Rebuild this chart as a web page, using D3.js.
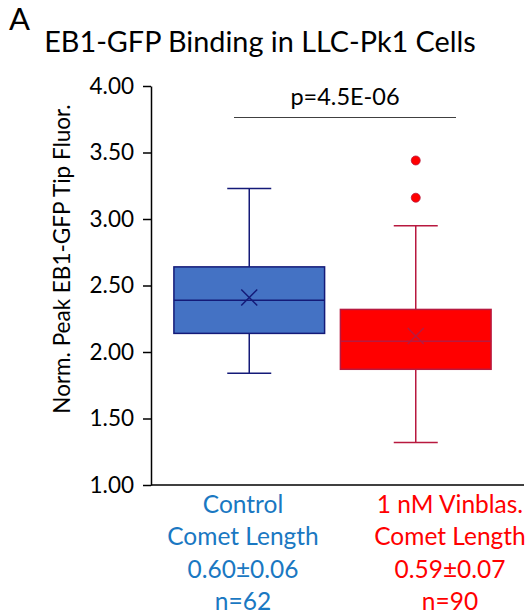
<!DOCTYPE html>
<html>
<head>
<meta charset="utf-8">
<script src="https://cdn.jsdelivr.net/npm/d3@7"></script>
<style>
body { margin: 0; background: #fff; }
text { font-family: Lato, "Open Sans", sans-serif; }
</style>
</head>
<body>
<div id="chart"></div>
<script>
var width = 529,
    height = 615;

// values
var groups = ["Control", "1 nM Vinblas."];
var whiskerLow = [1.84, 1.32];
var q1 = [2.14, 1.87];
var median = [2.39, 2.08];
var q3 = [2.64, 2.32];
var whiskerHigh = [3.23, 2.95];
var means = [2.41, 2.12];
var outliers = [[], [3.44, 3.16]];
var yTicks = [1.00, 1.50, 2.00, 2.50, 3.00, 3.50, 4.00];
var labelLines = [
    ["Control", "Comet Length", "0.60\u00b10.06", "n=62"],
    ["1 nM Vinblas.", "Comet Length", "0.59\u00b10.07", "n=90"]
];
var pText = "p=4.5E-06";

var fills = ["#4472c4", "#ff0000"],
    strokes = ["#141a78", "#b8193f"],
    labelColors = ["#1a78c2", "#ff0000"];

var svg = d3.select("#chart")
    .append("svg")
    .attr("width", width)
    .attr("height", height);

var yScale = d3.scaleLinear()
    .domain([1, 4])
    .range([485, 86]);

var xScale = d3.scaleBand()
    .domain(groups)
    .range([166, 499])
    .paddingInner(0);

var boxW = xScale.bandwidth() * 0.905,
    capW = 44;

// panel letter + title
svg.append("text")
    .attr("x", 9)
    .attr("y", 30)
    .attr("font-size", 31)
    .text("A");

svg.append("text")
    .attr("x", 260)
    .attr("y", 52)
    .attr("text-anchor", "middle")
    .attr("font-size", 28.8)
    .text("EB1-GFP Binding in LLC-Pk1 Cells");

// y axis
var yAxis = d3.axisLeft(yScale)
    .tickValues(yTicks)
    .tickFormat(d3.format(".2f"))
    .tickSize(8)
    .tickSizeOuter(0);

var gy = svg.append("g")
    .attr("transform", "translate(151,0)")
    .call(yAxis);
gy.select(".domain").attr("stroke", "#000").attr("stroke-width", 1.5);
gy.selectAll(".tick line").attr("stroke", "#000").attr("stroke-width", 1.5);
gy.selectAll(".tick text")
    .attr("font-size", 22.5)
    .attr("font-family", "Lato, sans-serif")
    .attr("fill", "#000")
    .attr("x", -17);

// x axis line
svg.append("line")
    .attr("x1", 151).attr("x2", 524)
    .attr("y1", yScale(1)).attr("y2", yScale(1))
    .attr("stroke", "#000")
    .attr("stroke-width", 1.5);

svg.append("text")
    .attr("transform", "translate(70," + 259 + ") rotate(-90)")
    .attr("text-anchor", "middle")
    .attr("font-size", 22.5)
    .text("Norm. Peak EB1-GFP Tip Fluor.");

// boxes
var g = svg.selectAll(".box")
    .data(groups)
    .enter()
    .append("g")
    .attr("class", "box");

g.each(function(d, i) {
    var sel = d3.select(this);
    var cx = xScale(d) + xScale.bandwidth() / 2;

    // whiskers
    sel.append("line")
        .attr("x1", cx).attr("x2", cx)
        .attr("y1", yScale(whiskerHigh[i])).attr("y2", yScale(q3[i]))
        .attr("stroke", strokes[i]).attr("stroke-width", 1.5);
    sel.append("line")
        .attr("x1", cx).attr("x2", cx)
        .attr("y1", yScale(q1[i])).attr("y2", yScale(whiskerLow[i]))
        .attr("stroke", strokes[i]).attr("stroke-width", 1.5);
    [whiskerHigh[i], whiskerLow[i]].forEach(function(v) {
        sel.append("line")
            .attr("x1", cx - capW / 2).attr("x2", cx + capW / 2)
            .attr("y1", yScale(v)).attr("y2", yScale(v))
            .attr("stroke", strokes[i]).attr("stroke-width", 1.5);
    });

    sel.append("rect")
        .attr("x", cx - boxW / 2)
        .attr("width", boxW)
        .attr("y", yScale(q3[i]))
        .attr("height", yScale(q1[i]) - yScale(q3[i]))
        .attr("fill", fills[i])
        .attr("stroke", strokes[i])
        .attr("stroke-width", 1.5);

    sel.append("line")
        .attr("x1", cx - boxW / 2).attr("x2", cx + boxW / 2)
        .attr("y1", yScale(median[i])).attr("y2", yScale(median[i]))
        .attr("stroke", strokes[i]).attr("stroke-width", 1.5);

    // mean marker
    var my = yScale(means[i]), s = 8;
    sel.append("path")
        .attr("d", "M" + (cx - s) + "," + (my - s) + "L" + (cx + s) + "," + (my + s) +
            "M" + (cx - s) + "," + (my + s) + "L" + (cx + s) + "," + (my - s))
        .attr("stroke", strokes[i]).attr("stroke-width", 1.5);

    sel.selectAll("circle")
        .data(outliers[i])
        .enter()
        .append("circle")
        .attr("cx", cx)
        .attr("cy", function(v) { return yScale(v); })
        .attr("r", 4.5)
        .attr("fill", fills[i])
        .attr("stroke", strokes[i])
        .attr("stroke-width", 0.8);
});

// significance bar
svg.append("line")
    .attr("x1", 234).attr("x2", 456)
    .attr("y1", 117.5).attr("y2", 117.5)
    .attr("stroke", "#404040")
    .attr("stroke-width", 1.2);

svg.append("text")
    .attr("x", 345)
    .attr("y", 105)
    .attr("text-anchor", "middle")
    .attr("font-size", 23.5)
    .text(pText);

// category labels
var labelX = [243, 450];
groups.forEach(function(d, i) {
    svg.append("text")
        .attr("text-anchor", "middle")
        .attr("fill", labelColors[i])
        .attr("font-size", 24.5)
        .selectAll("tspan")
        .data(labelLines[i])
        .enter()
        .append("tspan")
        .attr("x", labelX[i])
        .attr("y", function(t, j) { return 513 + j * 32.3; })
        .text(function(t) { return t; });
});
</script>
</body>
</html>
